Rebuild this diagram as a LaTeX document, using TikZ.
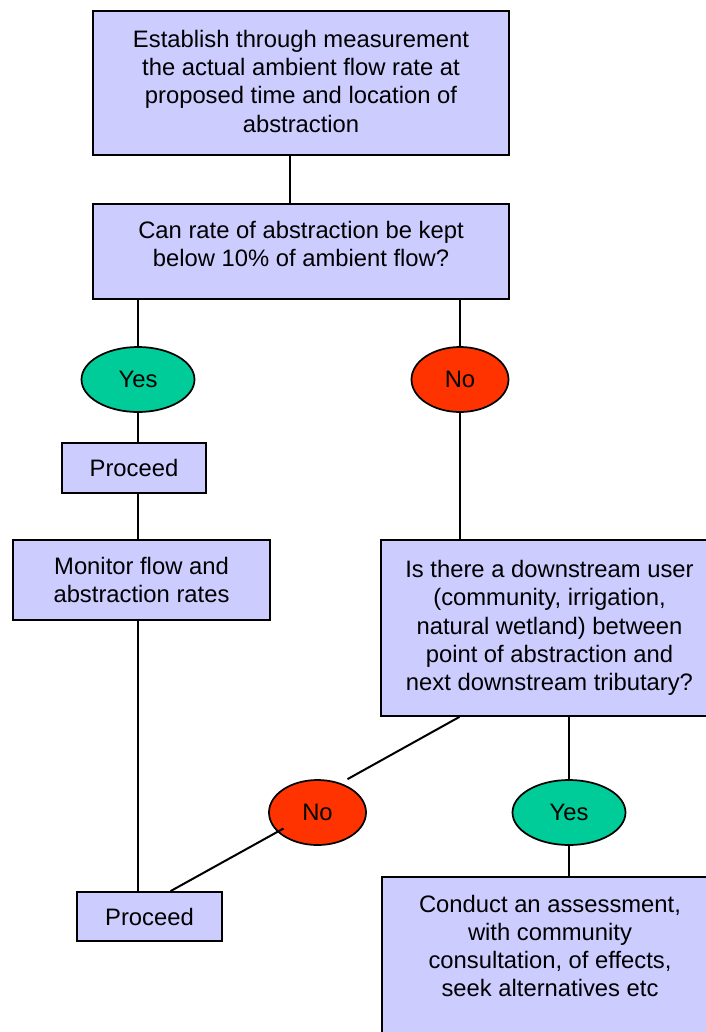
\documentclass[tikz,border=0pt]{standalone}
\usepackage{fontspec}
\setmainfont{Liberation Sans}
\usetikzlibrary{shapes.geometric,calc}
\definecolor{boxfill}{HTML}{CCCCFF}
\definecolor{yesfill}{HTML}{00CC99}
\definecolor{nofill}{HTML}{FF3300}
\tikzset{
  txt/.style={font=\fontsize{17.85pt}{21.2pt}\selectfont, align=center, text=black},
  boxnode/.style={txt, draw=black, line width=1.3pt, fill=boxfill, rectangle, inner sep=0pt},
  yesnode/.style={txt, draw=black, line width=1.3pt, fill=yesfill, ellipse, inner sep=0pt,
                  minimum width=84.75pt, minimum height=48.75pt},
  nonode/.style={txt, draw=black, line width=1.3pt, fill=nofill, ellipse, inner sep=0pt,
                 minimum width=72.75pt, minimum height=48.75pt},
  link/.style={draw=black, line width=1.5pt}
}
\begin{document}
\begin{tikzpicture}[x=0.75pt, y=-0.75pt]
\useasboundingbox (0,0) rectangle (706,1032);
\clip (0,0) rectangle (706,1032);
\fill[white] (0,0) rectangle (706,1032);

\node[boxnode, minimum width=312pt, minimum height=108pt] (b1) at (301,83)
  {Establish through measurement\\the actual ambient flow rate at\\proposed time and location of\\abstraction\rule[-3pt]{0pt}{3pt}};
\node[boxnode, minimum width=312pt, minimum height=71.25pt] (b2) at (301,251.5)
  {Can rate of abstraction be kept\\below 10\% of ambient flow?\rule[-11pt]{0pt}{11pt}};
\node[yesnode] (y1) at (138,379.5) {Yes};
\node[nonode] (n1) at (460,379.5) {No};
\node[boxnode, minimum width=108pt, minimum height=37.5pt] (p1) at (134,468) {Proceed};
\node[boxnode, minimum width=192.75pt, minimum height=60pt] (m1) at (141.5,580)
  {Monitor flow and\\abstraction rates};
\node[boxnode, minimum width=252.75pt, minimum height=132pt] (q1) at (549.5,628)
  {Is there a downstream user\\(community, irrigation,\\natural wetland) between\\point of abstraction and\\next downstream tributary?};
\node[nonode] (n2) at (317.5,812.5) {No};
\node[yesnode] (y2) at (569,812.5) {Yes};
\node[boxnode, minimum width=108.75pt, minimum height=36.75pt] (p2) at (149.5,916.5) {Proceed};
\node[boxnode, minimum width=252pt, minimum height=167.25pt] (as) at (550,988.5) {};
\node[txt] (astext) at (550,946)
  {Conduct an assessment,\\with community\\consultation, of effects,\\seek alternatives etc};

\draw[link] ($(b1.south)+(-11,0)$) -- ($(b2.north)+(-11,0)$);
\draw[link] (y1.north |- b2.south) -- (y1.north);
\draw[link] (n1.north |- b2.south) -- (n1.north);
\draw[link] (y1.south) -- (y1.south |- p1.north);
\draw[link] (y1.south |- p1.south) -- (y1.south |- m1.north);
\draw[link] (n1.south) -- (n1.south |- q1.north);
\draw[link] (y1.south |- m1.south) -- (y1.south |- p2.north);
\draw[link] ($(q1.south)+(-90,0)$) -- ($(n2.north)+(30,0)$);
\draw[link] ($(n2.center)+(-34,16)$) -- ($(p2.north)+(21,0)$);
\draw[link] (y2.north |- q1.south) -- (y2.north);
\draw[link] (y2.south) -- (y2.south |- as.north);
\end{tikzpicture}
\end{document}
